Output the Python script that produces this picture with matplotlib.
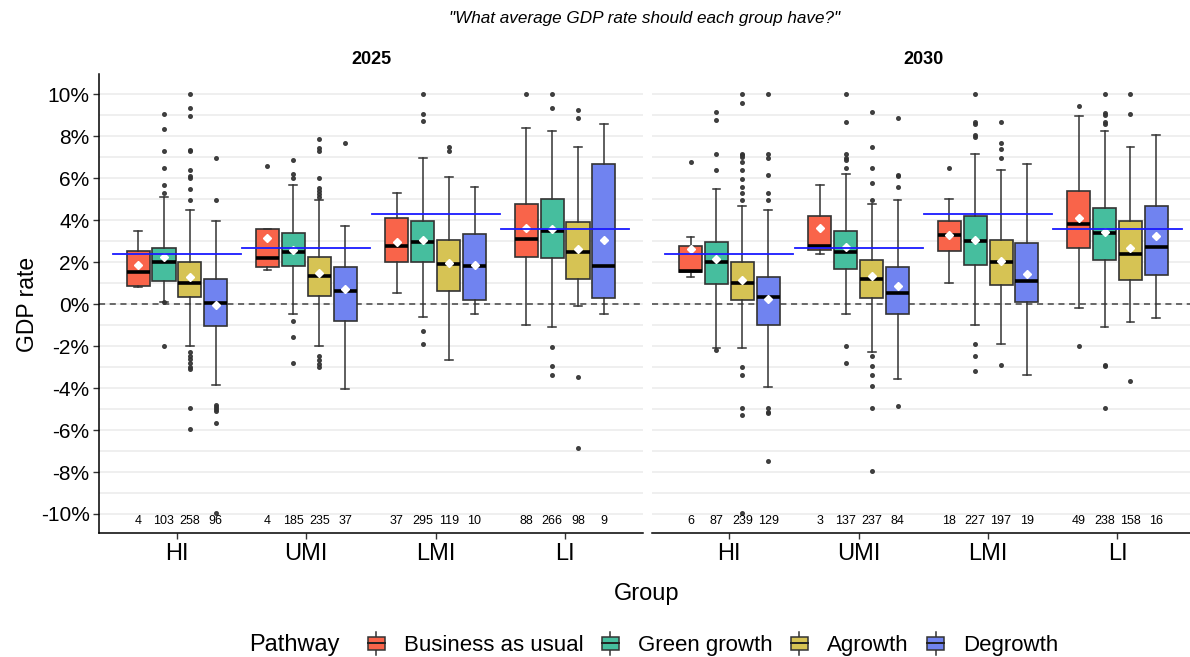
import numpy as np
import matplotlib
matplotlib.use("Agg")
import matplotlib.pyplot as plt
from matplotlib.patches import Rectangle, Patch
from matplotlib.lines import Line2D
from matplotlib.legend_handler import HandlerBase

plt.rcParams['font.family'] = ['Liberation Sans', 'DejaVu Sans']

groups = ["HI", "UMI", "LMI", "LI"]
pathways = ["Business as usual", "Green growth", "Agrowth", "Degrowth"]
colors = ["#F9644A", "#46BE9E", "#D6C354", "#7083F0"]
years = ["2025", "2030"]

# target line per group (%)
target = [2.4, 2.7, 4.3, 3.6]

# rows: group-major, pathway-minor -> [whislo, q1, median, q3, whishi]
box_2025 = [
    [0.81, 0.87, 1.55, 2.54, 3.49], [0.12, 1.11, 2.0, 2.70, 5.1],
    [-2.0, 0.32, 1.0, 2.0, 4.49], [-3.87, -1.03, 0.05, 1.2, 3.98],
    [1.63, 1.76, 2.22, 3.59, 3.59], [-0.49, 1.81, 2.51, 3.38, 5.68],
    [-1.99, 0.40, 1.32, 2.24, 4.98], [-4.06, -0.78, 0.63, 1.79, 3.73],
    [0.52, 2.0, 2.79, 4.09, 5.28], [-0.59, 2.0, 2.98, 3.98, 6.98],
    [-2.67, 0.62, 1.92, 3.08, 6.08], [-0.49, 0.22, 1.81, 3.35, 5.59],
    [-0.99, 2.24, 3.1, 4.76, 8.38], [-1.1, 2.22, 3.49, 5.0, 8.27],
    [-0.08, 1.19, 2.51, 3.94, 7.47], [-0.49, 0.31, 1.81, 6.67, 8.59],
]
mean_2025 = [1.87, 2.24, 1.3, -0.03, 3.14, 2.59, 1.5, 0.73,
             2.97, 3.05, 1.98, 1.89, 3.65, 3.57, 2.62, 3.05]
n_2025 = [4, 103, 258, 96, 4, 185, 235, 37, 37, 295, 119, 10, 88, 266, 98, 9]
fliers_2025 = [
    [],
    [9.06, 8.36, 7.29, 6.48, 5.68, 5.28, 0.08, -2.0],
    [10, 9.36, 8.97, 7.35, 7.28, 6.4, 6.11, 6.01, 5.49, 4.98,
     -2.26, -2.46, -2.62, -2.78, -3.0, -3.1, -4.95, -5.97],
    [6.97, 4.98, -4.8, -4.92, -5.0, -5.07, -5.68, -9.95],
    [6.6],
    [6.87, 6.19, 6.0, -0.8, -1.57, -2.78],
    [7.86, 7.43, 7.31, 6.0, 5.52, 5.41, 5.25, 5.12, -2.46, -2.65, -2.84, -3.0],
    [7.67],
    [],
    [10, 9.06, 8.74, -1.27, -1.89],
    [7.47, 7.28],
    [],
    [10],
    [10, 9.36, -2.05, -2.97, -3.38],
    [9.25, 8.86, -3.48, -6.86],
    [],
]

box_2030 = [
    [1.3, 1.52, 1.59, 2.79, 3.2], [-2.1, 0.98, 2.0, 2.98, 5.5],
    [-2.08, 0.22, 1.0, 2.0, 4.7], [-3.97, -1.0, 0.32, 1.29, 4.49],
    [2.41, 2.6, 2.79, 4.22, 5.68], [-0.49, 1.7, 2.51, 3.49, 6.19],
    [-2.27, 0.3, 1.2, 2.1, 4.79], [-3.57, -0.49, 0.52, 1.79, 4.98],
    [1.03, 2.55, 3.3, 3.95, 5.0], [-0.99, 1.86, 3.01, 4.19, 7.17],
    [-1.88, 0.9, 2.0, 3.08, 6.4], [-3.38, 0.08, 1.11, 2.93, 6.68],
    [-0.18, 2.7, 3.81, 5.38, 8.97], [-1.08, 2.1, 3.38, 4.6, 8.27],
    [-0.87, 1.14, 2.41, 3.98, 7.47], [-0.67, 1.4, 2.74, 4.68, 8.06],
]
mean_2030 = [2.63, 2.17, 1.16, 0.27, 3.62, 2.71, 1.32, 0.87,
             3.3, 3.08, 2.05, 1.46, 4.1, 3.44, 2.7, 3.25]
n_2030 = [6, 87, 239, 129, 3, 137, 237, 84, 18, 227, 197, 19, 49, 238, 158, 16]
fliers_2030 = [
    [6.78],
    [9.17, 8.76, 7.17, 6.38, -2.2],
    [10, 9.57, 7.17, 7.11, 7.0, 6.78, 6.38, 5.98, 5.59, 5.28, 4.98,
     -2.99, -3.38, -4.95, -5.27, -9.95],
    [10, 7.17, 6.97, 6.17, 5.28, 4.98, -4.95, -5.16, -5.2, -7.46],
    [],
    [10, 8.67, 7.17, 6.97, 6.87, 6.48, -1.99, -2.78],
    [9.17, 7.47, 6.48, 5.79, 4.98, -2.49, -2.97, -3.38, -3.89, -4.97, -7.97],
    [8.86, 6.17, 6.11, 5.59, -4.87],
    [6.48],
    [10, 8.7, 8.57, 8.06, 7.98, -1.89, -2.49, -3.18],
    [8.67, 7.68, 7.38, 6.97, -2.89],
    [],
    [9.46, -1.99],
    [10, 9.09, 9.01, 8.7, 8.59, -2.89, -2.97, -4.97],
    [10, 9.06, -3.67],
    [],
]

panel_data = {
    "2025": (box_2025, mean_2025, n_2025, fliers_2025),
    "2030": (box_2030, mean_2030, n_2030, fliers_2030),
}


class BoxKey(HandlerBase):
    # legend key drawn like a small boxplot
    def create_artists(self, legend, orig_handle, xdescent, ydescent,
                       width, height, fontsize, trans):
        x0, y0 = -xdescent, -ydescent
        fc = orig_handle.get_facecolor()
        rect = Rectangle((x0, y0 + height * 0.15), width, height * 0.7,
                         facecolor=fc, edgecolor='#333333', lw=1.1, transform=trans)
        med = Line2D([x0, x0 + width], [y0 + height / 2] * 2, color='#222222', lw=1.4, transform=trans)
        w1 = Line2D([x0 + width / 2] * 2, [y0 - height * 0.1, y0 + height * 0.15], color='#333333', lw=1.1, transform=trans)
        w2 = Line2D([x0 + width / 2] * 2, [y0 + height * 0.85, y0 + height * 1.1], color='#333333', lw=1.1, transform=trans)
        return [w1, w2, rect, med]


W, H = 1190, 657
fig = plt.figure(figsize=(W / 100, H / 100), dpi=100)

panel_left = [99.3, 651.7]
panel_w = 543.4
top_px, bot_px = 74, 533.3

dodge = 0.2
box_w = 0.178
edge = '#333333'

axes = []
for p, year in enumerate(years):
    ax = fig.add_axes([panel_left[p] / W, 1 - bot_px / H, panel_w / W, (bot_px - top_px) / H])
    axes.append(ax)
    box, mean, nn, fl = panel_data[year]

    for v in np.arange(-11, 12, 1):
        ax.axhline(v, color='#EBEBEB', lw=1.1, zorder=0)
    ax.axhline(0, color='#444444', lw=1.1, ls=(0, (4, 3)), zorder=1)

    for g in range(len(groups)):
        for k in range(len(pathways)):
            i = g * 4 + k
            pos = g + 1 + (k - 1.5) * dodge
            st = dict(whislo=box[i][0], q1=box[i][1], med=box[i][2], q3=box[i][3],
                      whishi=box[i][4], mean=mean[i], fliers=fl[i], label='')
            ax.bxp([st], positions=[pos], widths=box_w, patch_artist=True,
                   showmeans=True, showcaps=True,
                   boxprops=dict(facecolor=colors[k], edgecolor=edge, lw=1.2),
                   medianprops=dict(color='black', lw=2.6),
                   whiskerprops=dict(color=edge, lw=1.1),
                   capprops=dict(color=edge, lw=1.1),
                   capwidths=0.06,
                   meanprops=dict(marker='D', markerfacecolor='white', markeredgecolor='white', markersize=4),
                   flierprops=dict(marker='o', markerfacecolor='#333333', markeredgecolor='#333333',
                                   markersize=2.6, alpha=0.9),
                   manage_ticks=False, zorder=3)
            ax.text(pos, -10.35, str(nn[i]), ha='center', va='center', fontsize=9, color='black')
        ax.plot([g + 1 - 0.495, g + 1 + 0.495], [target[g], target[g]], color='#1A1AFF', lw=1.3, zorder=5)

    ax.set_xlim(0.4, 4.6)
    ax.set_ylim(-10.92, 10.97)
    ax.set_xticks(range(1, 5))
    ax.set_xticklabels(groups, fontsize=17)
    ax.tick_params(axis='x', length=4, width=1, color='#333333', pad=3)
    ax.spines['top'].set_visible(False)
    ax.spines['right'].set_visible(False)
    ax.spines['bottom'].set_linewidth(1.1)
    ax.set_title(year, fontsize=13, fontweight='bold', pad=7)
    if p == 0:
        ax.set_yticks(np.arange(-10, 11, 2))
        ax.set_yticklabels([f"{v}%" for v in range(-10, 11, 2)], fontsize=15)
        ax.tick_params(axis='y', length=4, width=1, color='#333333', pad=3)
        ax.spines['left'].set_linewidth(1.1)
    else:
        ax.set_yticks([])
        ax.spines['left'].set_visible(False)

fig.text(645 / W, 1 - 18 / H, '"What average GDP rate should each group have?"',
         ha='center', va='center', fontsize=12.3, style='italic')
fig.text(28 / W, 1 - 304 / H, "GDP rate", rotation=90, ha='center', va='center', fontsize=16.5)
fig.text(647 / W, 1 - 594 / H, "Group", ha='center', va='center', fontsize=17)

fig.text(249 / W, 1 - 645 / H, "Pathway", ha='left', va='center', fontsize=17)
handles = [Patch(facecolor=c) for c in colors]
fig.legend(handles, pathways, handler_map={Patch: BoxKey()}, ncol=4,
           loc='center left', bbox_to_anchor=(368 / W, 1 - 645 / H), frameon=False,
           fontsize=16, handlelength=0.75, handleheight=0.95, handletextpad=0.85,
           columnspacing=0.85, borderpad=0, borderaxespad=0)

fig.savefig("out.png", dpi=100)
